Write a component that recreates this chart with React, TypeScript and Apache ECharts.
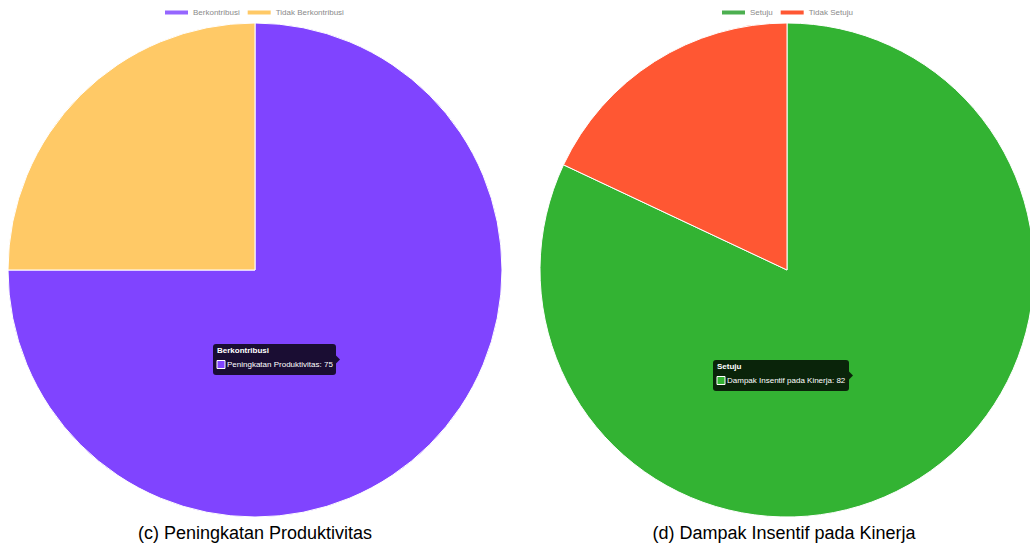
import React, { useEffect, useRef } from "react";
import * as echarts from "echarts";

const leftTitle = "Peningkatan Produktivitas";
const leftCategories = ["Berkontribusi", "Tidak Berkontribusi"];
const leftValues = [75, 25];
const leftColors = ["#8044FF", "#FFC966"];
const leftLegendColors = ["#9566FF", "#FFC966"];

const rightTitle = "Dampak Insentif pada Kinerja";
const rightCategories = ["Setuju", "Tidak Setuju"];
const rightValues = [82, 18];
const rightColors = ["#33B333", "#FF5733"];
const rightLegendColors = ["#4CAF50", "#FF5733"];

const captions = ["(c) Peningkatan Produktivitas", "(d) Dampak Insentif pada Kinerja"];

const FONT = "'Liberation Sans', Arial, Helvetica, sans-serif";

function tooltipGraphic(x: number, y: number, w: number, title: string, label: string, value: number, color: string) {
  const h = 31;
  return {
    type: "group",
    x,
    y,
    z: 100,
    children: [
      { type: "rect", z: 100, shape: { x: 0, y: 0, width: w, height: h, r: 3 }, style: { fill: "rgba(0,0,0,0.8)" } },
      { type: "polygon", z: 100, shape: { points: [[w, h / 2 - 4], [w + 4, h / 2], [w, h / 2 + 4]] }, style: { fill: "rgba(0,0,0,0.8)" } },
      { type: "text", z: 101, x: 4, y: 2.5, style: { text: title, fill: "#fff", font: `bold 8px ${FONT}` } },
      { type: "rect", z: 101, shape: { x: 4, y: 16.5, width: 8, height: 8 }, style: { fill: color, stroke: "#fff", lineWidth: 1 } },
      { type: "text", z: 101, x: 14, y: 16.5, style: { text: `${label}: ${value}`, fill: "#fff", font: `8px ${FONT}` } },
    ],
  };
}

function legendOpt(cats: string[], colors: string[], left: number) {
  return {
    data: cats.map((n, i) => ({ name: n, itemStyle: { color: colors[i] } })),
    left,
    top: 8.5,
    padding: 0,
    itemWidth: 25,
    itemHeight: 6,
    itemGap: 6,
    icon: "rect",
    textStyle: { fontSize: 8, color: "#8a8a8a", fontFamily: FONT, padding: [0, 0, 0, -1] },
  };
}

export default function App() {
  const ref = useRef<HTMLDivElement>(null);
  useEffect(() => {
    document.body.style.margin = "0";
    const chart = echarts.init(ref.current!, null, { renderer: "svg" });
    chart.setOption({
      animation: false,
      backgroundColor: "#fff",
      legend: [legendOpt(leftCategories, leftLegendColors, 163), legendOpt(rightCategories, rightLegendColors, 720)],
      series: [
        {
          type: "pie",
          name: leftTitle,
          center: [255, 270],
          radius: 247,
          startAngle: 90,
          clockwise: true,
          label: { show: false },
          labelLine: { show: false },
          itemStyle: { borderColor: "#fff", borderWidth: 1 },
          emphasis: { disabled: true },
          data: leftCategories.map((n, i) => ({ name: n, value: leftValues[i], itemStyle: { color: leftColors[i] } })),
        },
        {
          type: "pie",
          name: rightTitle,
          center: [787, 270],
          radius: 247,
          startAngle: 90,
          clockwise: true,
          label: { show: false },
          labelLine: { show: false },
          itemStyle: { borderColor: "#fff", borderWidth: 1 },
          emphasis: { disabled: true },
          data: rightCategories.map((n, i) => ({ name: n, value: rightValues[i], itemStyle: { color: rightColors[i] } })),
        },
      ],
      graphic: [
        tooltipGraphic(213, 344, 123, leftCategories[0], leftTitle, leftValues[0], leftColors[0]),
        tooltipGraphic(713, 360, 136, rightCategories[0], rightTitle, rightValues[0], rightColors[0]),
        {
          type: "text",
          x: 255,
          y: 533,
          style: { text: captions[0], fill: "#000", font: `18px ${FONT}`, textAlign: "center", textVerticalAlign: "middle" },
        },
        {
          type: "text",
          x: 784,
          y: 533,
          style: { text: captions[1], fill: "#000", font: `18px ${FONT}`, textAlign: "center", textVerticalAlign: "middle" },
        },
      ],
    });
    return () => chart.dispose();
  }, []);
  return <div ref={ref} style={{ width: 1030, height: 545, position: "absolute", left: 0, top: 0 }} />;
}
